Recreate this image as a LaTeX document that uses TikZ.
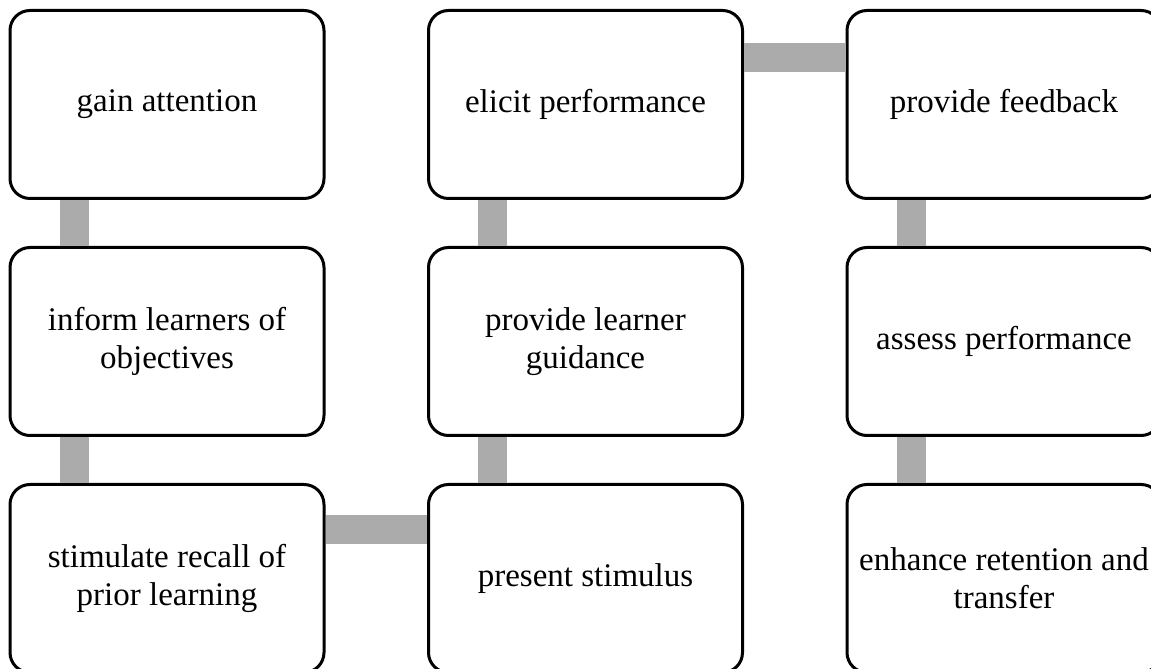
\documentclass[tikz,border=0pt]{standalone}
\usepackage{fontspec}
\setmainfont{Liberation Serif}
\usepackage{xcolor}
\usetikzlibrary{positioning}

\begin{document}
\begin{tikzpicture}[
        x=1pt, y=1pt,
        node distance=46pt and 101.5pt,
        block/.style={rectangle, draw=black, fill=white, line width=3pt, rounded corners=20pt, minimum width=314pt, minimum height=188pt, align=center, font=\fontsize{33}{38}\selectfont},
        link/.style={draw=black!33, line width=29pt}
    ]
        \useasboundingbox (0,0) rectangle (1151,669);

        % First column
        \node[block] (gain) at (167,564.5) {gain attention};
        \node[block] (inform) [below=of gain] {inform learners of\\objectives};
        \node[block] (recall) [below=of inform] {stimulate recall of\\prior learning};

        % Second column
        \node[block] (stimulus) [right=of recall] {present stimulus};
        \node[block] (guidance) [above=of stimulus] {provide learner\\guidance};
        \node[block] (elicit) [above=of guidance] {elicit performance};

        % Third column
        \node[block] (feedback) [right=of elicit] {provide feedback};
        \node[block] (assess) [below=of feedback] {assess performance};
        \node[block] (retention) [below=of assess] {enhance retention and\\transfer};

        % Connections
        \draw[link] ([xshift=-93pt]gain.south) -- ([xshift=-93pt]inform.north);
        \draw[link] ([xshift=-93pt]inform.south) -- ([xshift=-93pt]recall.north);
        \draw[link] ([yshift=49pt]recall.east) -- ([yshift=49pt]stimulus.west);
        \draw[link] ([xshift=-93pt]stimulus.north) -- ([xshift=-93pt]guidance.south);
        \draw[link] ([xshift=-93pt]guidance.north) -- ([xshift=-93pt]elicit.south);
        \draw[link] ([yshift=47pt]elicit.east) -- ([yshift=47pt]feedback.west);
        \draw[link] ([xshift=-93pt]feedback.south) -- ([xshift=-93pt]assess.north);
        \draw[link] ([xshift=-93pt]assess.south) -- ([xshift=-93pt]retention.north);
    \end{tikzpicture}
\end{document}
